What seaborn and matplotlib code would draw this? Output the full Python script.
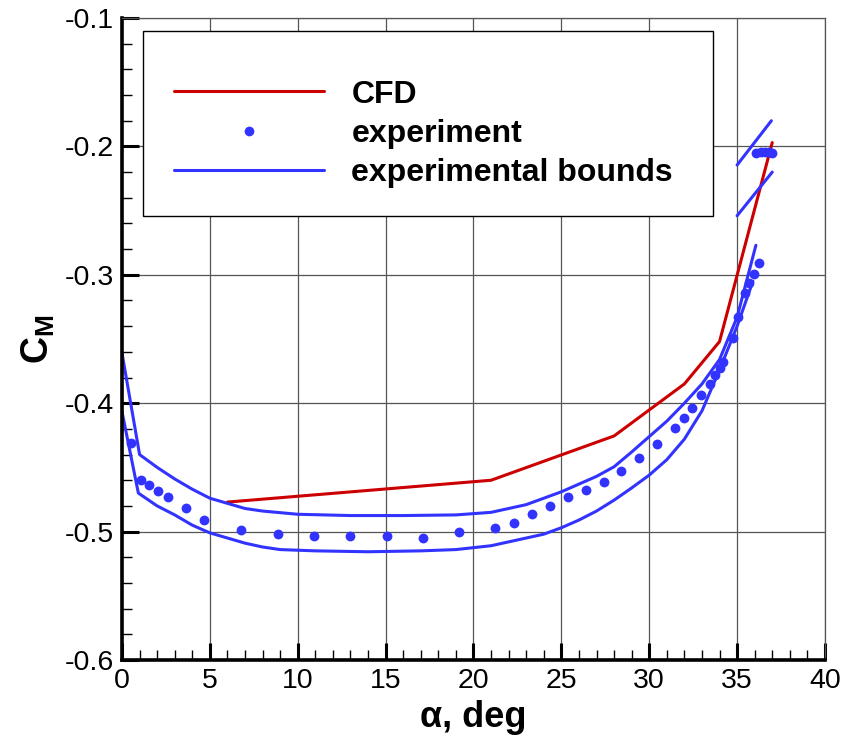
import matplotlib
matplotlib.use('Agg')
import matplotlib.pyplot as plt
from matplotlib.lines import Line2D
from matplotlib.patches import Rectangle
from matplotlib.ticker import MultipleLocator, FormatStrFormatter
import pandas as pd
import seaborn as sns

# CFD prediction
cfd_alpha = [6, 21, 28, 32, 34, 37]
cfd_cm = [-0.477, -0.460, -0.4255, -0.385, -0.352, -0.197]

# experiment points
exp_alpha = [0.52, 1.06, 1.55, 2.06, 2.6, 3.64, 4.67, 6.77, 8.86, 10.94, 13.0,
             15.06, 17.11, 19.2, 21.23, 22.28, 23.33, 24.33, 25.36, 26.4, 27.4,
             28.41, 29.44, 30.45, 31.46, 31.97, 32.45, 32.97, 33.46, 33.77, 34.0,
             34.2, 34.76, 35.07, 35.45, 35.68, 35.97, 36.22,
             36.1, 36.35, 36.6, 36.8, 37.0]
exp_cm = [-0.4313, -0.4598, -0.4637, -0.4684, -0.4728, -0.4814, -0.4912, -0.4988,
          -0.5015, -0.5031, -0.5036, -0.5032, -0.5047, -0.5001, -0.497, -0.493,
          -0.4863, -0.4798, -0.4733, -0.4676, -0.4611, -0.453, -0.4424, -0.432,
          -0.4196, -0.4115, -0.4035, -0.3936, -0.385, -0.378, -0.3728, -0.3677,
          -0.3495, -0.333, -0.3144, -0.3066, -0.2994, -0.2906,
          -0.205, -0.204, -0.204, -0.204, -0.205]

# experimental bounds
upper_alpha = [0, 1, 2, 3, 4, 5, 6, 7, 8, 10, 13, 16, 19, 21, 22, 23, 24, 25, 26,
               27, 28, 29, 30, 31, 32, 33, 34, 35, 36.07]
upper_cm = [-0.361, -0.440, -0.450, -0.459, -0.467, -0.474, -0.478, -0.482,
            -0.484, -0.4865, -0.4875, -0.4875, -0.487, -0.485, -0.482, -0.479,
            -0.474, -0.469, -0.463, -0.457, -0.4495, -0.438, -0.426, -0.414,
            -0.400, -0.385, -0.366, -0.333, -0.277]
lower_alpha = [0, 0.93, 2, 3, 4, 5, 6, 7, 8, 9, 11, 14, 17, 19, 21, 22, 23, 24,
               25, 26, 27, 28, 29, 30, 31, 32, 33, 34, 35, 35.9]
lower_cm = [-0.4066, -0.470, -0.480, -0.487, -0.495, -0.501, -0.505, -0.509,
            -0.512, -0.514, -0.515, -0.5157, -0.515, -0.514, -0.511, -0.508,
            -0.505, -0.502, -0.497, -0.491, -0.484, -0.4755, -0.466, -0.456,
            -0.444, -0.428, -0.406, -0.374, -0.340, -0.305]
upper_top_alpha = [35.0, 36.95]
upper_top_cm = [-0.2145, -0.180]
lower_top_alpha = [35.0, 37.0]
lower_top_cm = [-0.254, -0.220]

red = '#cc0000'
blue = '#3333ff'
grid_col = '#555555'

sns.set_theme(style='white')
plt.rcParams['font.family'] = ['Liberation Sans', 'DejaVu Sans']
plt.rcParams['axes.unicode_minus'] = False
plt.rcParams['mathtext.fontset'] = 'custom'
plt.rcParams['mathtext.bf'] = 'Liberation Sans:bold'
plt.rcParams['mathtext.rm'] = 'Liberation Sans'
plt.rcParams['text.color'] = 'black'
plt.rcParams['axes.labelcolor'] = 'black'
plt.rcParams['xtick.color'] = 'black'
plt.rcParams['ytick.color'] = 'black'

cfd = pd.DataFrame({'alpha': cfd_alpha, 'cm': cfd_cm})
exp = pd.DataFrame({'alpha': exp_alpha, 'cm': exp_cm})
bounds = pd.concat([
    pd.DataFrame({'alpha': upper_alpha, 'cm': upper_cm, 'seg': 'upper'}),
    pd.DataFrame({'alpha': lower_alpha, 'cm': lower_cm, 'seg': 'lower'}),
    pd.DataFrame({'alpha': upper_top_alpha, 'cm': upper_top_cm, 'seg': 'upper_top'}),
    pd.DataFrame({'alpha': lower_top_alpha, 'cm': lower_top_cm, 'seg': 'lower_top'}),
], ignore_index=True)

fig = plt.figure(figsize=(8.58, 7.45), dpi=100)
ax = fig.add_axes([0.1422, 0.1141, 0.8193, 0.8617])

sns.lineplot(data=cfd, x='alpha', y='cm', color=red, lw=2.2, sort=False,
             estimator=None, ax=ax)
sns.lineplot(data=bounds, x='alpha', y='cm', units='seg', estimator=None,
             sort=False, color=blue, lw=2.2, ax=ax)
sns.scatterplot(data=exp, x='alpha', y='cm', color=blue, s=50, linewidth=0,
                ax=ax, zorder=3)

ax.set_xlim(0, 40)
ax.set_ylim(-0.6, -0.1)
ax.xaxis.set_major_locator(MultipleLocator(5))
ax.xaxis.set_minor_locator(MultipleLocator(1))
ax.yaxis.set_major_locator(MultipleLocator(0.1))
ax.yaxis.set_minor_locator(MultipleLocator(0.02))
ax.xaxis.set_major_formatter(FormatStrFormatter('%d'))
ax.yaxis.set_major_formatter(FormatStrFormatter('%.1f'))

ax.grid(True, which='major', color=grid_col, lw=0.9)
ax.set_axisbelow(True)

ax.tick_params(which='both', direction='in', top=False, right=False,
               left=True, bottom=True, colors='black')
ax.tick_params(which='major', length=12, width=2.2, labelsize=20.5, pad=6)
ax.tick_params(which='minor', length=7, width=1.0)

for side in ['left', 'bottom']:
    ax.spines[side].set_linewidth(2.6)
    ax.spines[side].set_color('black')
for side in ['top', 'right']:
    ax.spines[side].set_linewidth(0.9)
    ax.spines[side].set_color(grid_col)

ax.set_xlabel('α, deg', fontsize=26, fontweight='bold', color='black')
ax.set_ylabel(r'$\mathbf{C_M}$', fontsize=27, color='black')
ax.xaxis.set_label_coords(0.5, -0.062)
ax.yaxis.set_label_coords(-0.093, 0.5)

# legend box
ax.add_patch(Rectangle((0.0299, 0.6916), 0.8108, 0.2882, transform=ax.transAxes,
                       facecolor='white', edgecolor='black', lw=1.0, zorder=4,
                       clip_on=False))
handles = [Line2D([], [], color=red, lw=2.2),
           Line2D([], [], color=blue, marker='o', ls='none', markersize=7,
                  markeredgewidth=0),
           Line2D([], [], color=blue, lw=2.2)]
labels = ['CFD', 'experiment', 'experimental bounds']
leg = ax.legend(handles, labels, loc='upper left', bbox_to_anchor=(0.074, 0.904),
                frameon=False, borderpad=0, borderaxespad=0, handlelength=4.7,
                handletextpad=0.85, labelspacing=0.29, numpoints=1,
                prop={'weight': 'bold', 'size': 23}, labelcolor='black')
leg.set_zorder(6)

fig.savefig('out.png', dpi=100)
